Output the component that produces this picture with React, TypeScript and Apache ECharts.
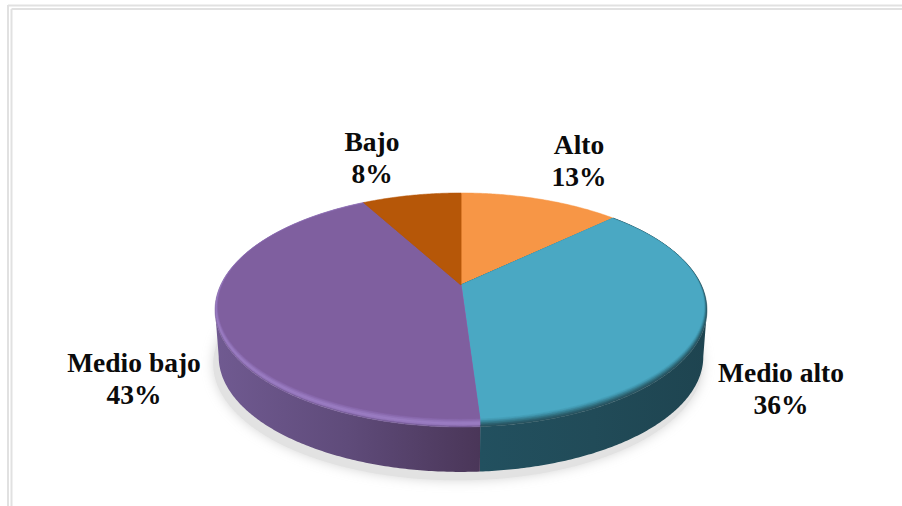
import React, { useEffect, useRef } from "react";
import * as echarts from "echarts";

const categories = ["Alto", "Medio alto", "Medio bajo", "Bajo"];
const shares = [13, 36, 43, 8];

// Face colours, ordered from the outer bevel edge to the flat top of the slice.
const faceRamps = [
  ["#f79646", "#f79646"],
  ["#28535f", "#2c5f6e", "#337485", "#3b899f", "#449db6", "#4aa8c3"],
  ["#7a5f9c", "#9678bd", "#9a7cc2", "#9274b9", "#8868ac", "#7f5f9f"],
  ["#b65708", "#b65708"],
];
const wallStops = [
  null,
  ["#22505f", "#214b58", "#1e4450"],
  ["#705a91", "#5f4b7a", "#4a3658"],
  null,
];
const labelAnchors = [
  [579, 160],
  [781, 388],
  [134, 378],
  [372, 157],
];

// Tilted-disc projection: a circle seen in perspective, with its hub off the ellipse centre.
const hubX = 461;
const hubY = 285;
const radiusX = 240.3;
const radiusY = 111.7;
const foreshorten = 0.2136;
const wallDrop = 47;
const wallShrink = 0.985;
const bevelDepth = 6.5;
const bevelSide = 0.012;
const silhouette = Math.acos(-foreshorten);

function project(theta: number, scale = 1, drop = 0, shiftX = 0): number[] {
  const d = 1 + foreshorten * Math.cos(theta);
  return [
    hubX + shiftX + (radiusX * scale * Math.sin(theta)) / d,
    hubY + drop - (radiusY * scale * Math.cos(theta)) / d,
  ];
}

// Point on the rim of a bevel layer; t = 0 is the outer edge, t = 1 the flat top.
function bevelPoint(theta: number, t: number): number[] {
  const front = Math.pow((1 - Math.cos(theta)) / 2, 1.3);
  const p = project(theta, 1 - bevelSide * t);
  return [p[0], p[1] - bevelDepth * t * front];
}

function arc(from: number, to: number, at: (a: number) => number[]): number[][] {
  const steps = Math.max(2, Math.ceil(Math.abs(to - from) / 0.01));
  const pts: number[][] = [];
  for (let i = 0; i <= steps; i++) pts.push(at(from + ((to - from) * i) / steps));
  return pts;
}

function renderSlice(params: any, api: any) {
  const i = params.dataIndex;
  const total = shares.reduce((s, v) => s + v, 0);
  const before = shares.slice(0, i).reduce((s, v) => s + v, 0);
  const start = (before / total) * Math.PI * 2;
  const end = ((before + api.value(0)) / total) * Math.PI * 2;
  const children: any[] = [];

  const stops = wallStops[i];
  const wallFrom = Math.max(start, silhouette);
  const wallTo = Math.min(end, Math.PI * 2 - silhouette);
  if (stops && wallTo > wallFrom) {
    const upper = arc(wallFrom, wallTo, (a) => project(a));
    const lower = arc(wallTo, wallFrom, (a) => project(a, wallShrink, wallDrop));
    children.push({
      type: "polygon",
      shape: { points: upper.concat(lower) },
      style: {
        fill: new echarts.graphic.LinearGradient(
          0, 0, 1, 0,
          stops.map((color, k) => ({ offset: k / (stops.length - 1), color })),
        ),
      },
    });
  }

  const ramp = faceRamps[i];
  ramp.forEach((color, k) => {
    const t = k / (ramp.length - 1);
    const rim = arc(start, end, (a) => bevelPoint(a, t));
    children.push({
      type: "polygon",
      shape: { points: [[hubX, hubY], ...rim] },
      style: { fill: color, stroke: color, lineWidth: 0.5 },
    });
  });

  const [lx, ly] = labelAnchors[i];
  children.push({
    type: "text",
    style: {
      text: `${categories[i]}\n${api.value(0)}%`,
      x: lx,
      y: ly,
      align: "center",
      verticalAlign: "middle",
      fontFamily: "Liberation Serif",
      fontWeight: "bold",
      fontSize: 27.5,
      lineHeight: 32,
      fill: "#0b0b0b",
    },
  });
  return { type: "group", children };
}

function renderShadow() {
  return {
    type: "polygon",
    shape: { points: arc(0, Math.PI * 2, (a) => project(a, 0.995, 54, -3)) },
    style: { fill: "#e2e2e2", shadowBlur: 12, shadowColor: "#d6d6d6" },
  };
}

const frameColor = "#e1e1e1";
const frameLines = [
  [8, 5.5, 902, 5.5],
  [8, 5, 8, 506],
  [11.5, 9, 902, 9],
  [11.5, 9, 11.5, 506],
];

export default function App() {
  const ref = useRef<HTMLDivElement>(null);
  useEffect(() => {
    document.body.style.margin = "0";
    const chart = echarts.init(ref.current!, undefined, { renderer: "svg" });
    chart.setOption({
      animation: false,
      backgroundColor: "#ffffff",
      graphic: frameLines.map(([x1, y1, x2, y2]) => ({
        type: "line",
        shape: { x1, y1, x2, y2 },
        style: { stroke: frameColor, lineWidth: 2 },
        silent: true,
      })),
      series: [
        {
          type: "custom",
          coordinateSystem: "none",
          silent: true,
          z: 1,
          data: [[1]],
          renderItem: renderShadow,
        },
        {
          type: "custom",
          coordinateSystem: "none",
          silent: true,
          z: 2,
          encode: { value: 0 },
          data: shares.map((v, i) => ({ name: categories[i], value: [v] })),
          renderItem: renderSlice,
        },
      ],
    });
    return () => chart.dispose();
  }, []);
  return <div ref={ref} style={{ width: 902, height: 506 }} />;
}
